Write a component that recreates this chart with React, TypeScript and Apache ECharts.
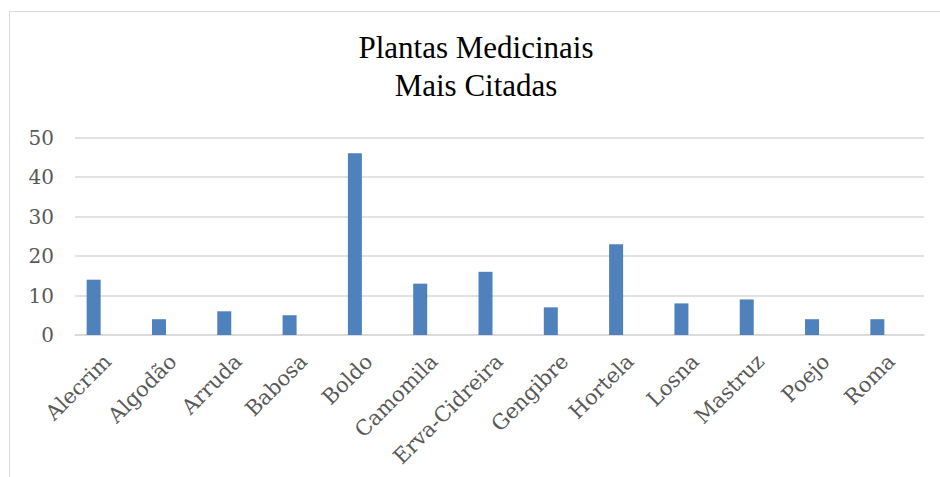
import React, { useEffect, useRef } from "react";
import * as echarts from "echarts";

const categories = [
  "Alecrim",
  "Algodão",
  "Arruda",
  "Babosa",
  "Boldo",
  "Camomila",
  "Erva-Cidreira",
  "Gengibre",
  "Hortela",
  "Losna",
  "Mastruz",
  "Poejo",
  "Roma",
];
const citations = [14, 4, 6, 5, 46, 13, 16, 7, 23, 8, 9, 4, 4];
const emptySeries: (number | null)[] = categories.map(() => null);
const yMin = 0;
const yMax = 50;
const yInterval = 10;
const titleText = "Plantas Medicinais\nMais Citadas";

export default function App() {
  const ref = useRef<HTMLDivElement>(null);
  useEffect(() => {
    if (!ref.current) return;
    const chart = echarts.init(ref.current, undefined, { renderer: "svg" });
    const serif = "'Liberation Serif', 'Times New Roman', serif";
    const axisFont = "'DejaVu Serif', serif";
    chart.setOption({
      animation: false,
      backgroundColor: "#ffffff",
      title: {
        text: titleText,
        left: 471,
        top: 23,
        textAlign: "center",
        textStyle: {
          fontFamily: serif,
          fontSize: 31,
          fontWeight: "normal",
          color: "#000000",
          lineHeight: 38,
        },
      },
      graphic: [
        {
          type: "rect",
          shape: { x: 9.5, y: 11.5, width: 940, height: 480 },
          style: { fill: "none", stroke: "#d9d9d9", lineWidth: 1 },
          silent: true,
          z: -1,
        },
      ],
      grid: { left: 75, right: 16, top: 137.5, bottom: 142, containLabel: false },
      xAxis: {
        type: "category",
        data: categories,
        axisLine: { show: true, lineStyle: { color: "#d9d9d9", width: 1.5 } },
        axisTick: { show: false },
        axisLabel: {
          rotate: 45,
          margin: 23,
          interval: 0,
          fontFamily: axisFont,
          fontSize: 21,
          color: "#595959",
        },
      },
      yAxis: {
        type: "value",
        min: yMin,
        max: yMax,
        interval: yInterval,
        axisLine: { show: false },
        axisTick: { show: false },
        splitLine: { lineStyle: { color: "#d9d9d9", width: 1.5 } },
        axisLabel: {
          margin: 21,
          fontFamily: axisFont,
          fontSize: 20,
          color: "#595959",
        },
      },
      series: [
        {
          type: "bar",
          data: citations,
          barWidth: 14,
          barGap: "0%",
          itemStyle: { color: "#4f81bd" },
        },
        { type: "bar", data: emptySeries, barWidth: 14, barGap: "0%" },
        { type: "bar", data: emptySeries, barWidth: 14, barGap: "0%" },
      ],
    });
    return () => chart.dispose();
  }, []);
  return (
    <div
      ref={ref}
      style={{ position: "absolute", left: 0, top: 0, width: 940, height: 477 }}
    />
  );
}
